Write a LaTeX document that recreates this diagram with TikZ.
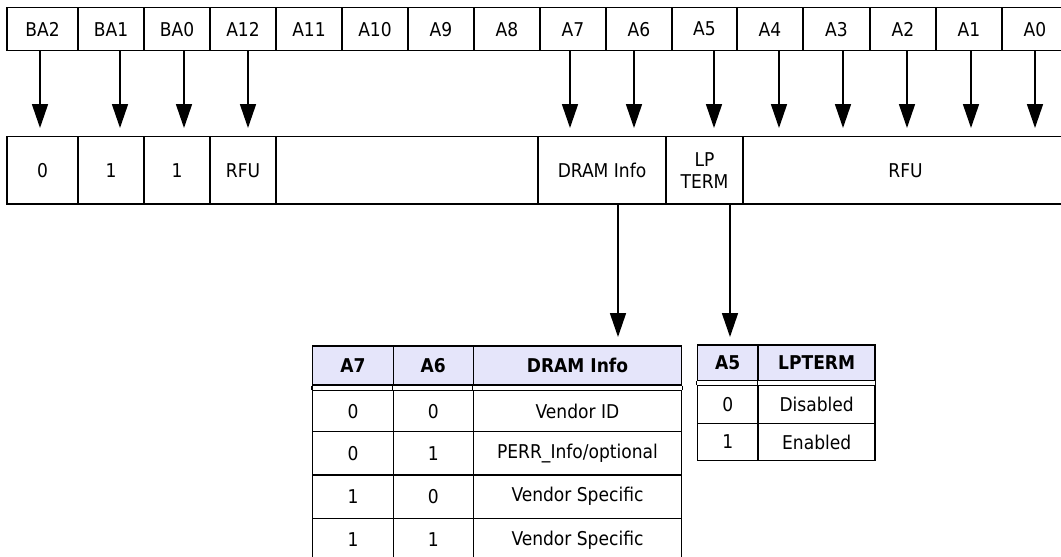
\documentclass[tikz,border=0pt]{standalone}
\usepackage{fontspec}
\setmainfont{DejaVu Sans Condensed}
\usetikzlibrary{arrows.meta}
\definecolor{hdr}{RGB}{229,229,250}
\begin{document}
\begin{tikzpicture}[x=1pt,y=-1pt,
  box/.style={draw=black,line width=1.3pt,inner sep=0pt,align=center,text=black,font=\fontsize{19}{22}\selectfont},
  hd/.style={box,fill=hdr,font=\bfseries\fontsize{19}{22}\selectfont},
  grid/.style={line width=1.3pt},
  arr/.style={line width=1.7pt,-{Triangle[length=24pt,width=16pt]}}]
\fill[white] (0,0) rectangle (1061,557);
\useasboundingbox (0,0) rectangle (1061,557);
\clip (0,0) rectangle (1061,557);
% top row
\foreach \l/\a/\b [count=\i] in {BA2/7/78,BA1/78/144,BA0/144/210,A12/210/276,A11/276/342,A10/342/408,A9/408/474,A8/474/540,A7/540/606,A6/606/672,A5/672/737,A4/737/803,A3/803/870,A2/870/936,A1/936/1002,A0/1002/1068}
  \node[box,minimum width={(\b-\a)*1pt},minimum height=43.2pt] (t\i) at ({(\a+\b)/2},29.1) {\l};
% second row
\foreach \l/\a/\b [count=\i] in {0/7/78,1/78/144,1/144/210,RFU/210/276,/276/538,DRAM Info/538/666,LP\\TERM/666/743,RFU/743/1068}
  \node[box,minimum width={(\b-\a)*1pt},minimum height=67.3pt] (b\i) at ({(\a+\b)/2},170.35) {\l};
% arrows top -> second row
\foreach \x [count=\i] in {40,120,184,248,570,634,714,779,843,907,971,1035} {
  \coordinate (as\i) at (\x,50.7);
  \coordinate (ae\i) at (\x,128);
  \draw[arr] (as\i) -- (ae\i);
}
% down arrows
\coordinate (ds1) at (618,204);
\coordinate (de1) at (618,337);
\coordinate (ds2) at (730,204);
\coordinate (de2) at (730,337);
\draw[arr] (ds1) -- (de1);
\draw[arr] (ds2) -- (de2);
% table 1
\node[hd,minimum width=80.6pt,minimum height=39pt] (h1a) at (353,365.5) {A7};
\node[hd,minimum width=80pt,minimum height=39pt] (h1b) at (433.3,365.5) {A6};
\node[hd,minimum width=208.4pt,minimum height=39pt] (h1c) at (577.5,365.5) {DRAM Info};
\node[box,minimum width=80.6pt,minimum height=41pt] (c1a) at (353,411.2) {0};
\node[box,minimum width=80pt,minimum height=41pt] (c1b) at (433.3,411.2) {0};
\node[box,minimum width=208.4pt,minimum height=41pt] (c1c) at (577.5,411.2) {Vendor ID};
\node[box,minimum width=80.6pt,minimum height=43.3pt] (c2a) at (353,453.35) {0};
\node[box,minimum width=80pt,minimum height=43.3pt] (c2b) at (433.3,453.35) {1};
\node[box,minimum width=208.4pt,minimum height=43.3pt] (c2c) at (577.5,453.35) {PERR\_Info/optional};
\node[box,minimum width=80.6pt,minimum height=43.3pt] (c3a) at (353,496.65) {1};
\node[box,minimum width=80pt,minimum height=43.3pt] (c3b) at (433.3,496.65) {0};
\node[box,minimum width=208.4pt,minimum height=43.3pt] (c3c) at (577.5,496.65) {Vendor Specific};
\node[box,minimum width=80.6pt,minimum height=43.3pt] (c4a) at (353,539.95) {1};
\node[box,minimum width=80pt,minimum height=43.3pt] (c4b) at (433.3,539.95) {1};
\node[box,minimum width=208.4pt,minimum height=43.3pt] (c4c) at (577.5,539.95) {Vendor Specific};
\draw[grid] (h1a.south west) -- (c1a.north west);
\draw[grid] (h1b.south west) -- (c1b.north west);
\draw[grid] (h1c.south west) -- (c1c.north west);
\draw[grid] (h1c.south east) -- (c1c.north east);
% table 2
\node[hd,minimum width=60.8pt,minimum height=35.7pt] (h2a) at (727.7,362.85) {A5};
\node[hd,minimum width=116.8pt,minimum height=35.7pt] (h2b) at (816.7,362.85) {LPTERM};
\node[box,minimum width=60.8pt,minimum height=37.6pt] (d1a) at (727.7,404.5) {0};
\node[box,minimum width=116.8pt,minimum height=37.6pt] (d1b) at (816.7,404.5) {Disabled};
\node[box,minimum width=60.8pt,minimum height=37.4pt] (d2a) at (727.7,442) {1};
\node[box,minimum width=116.8pt,minimum height=37.4pt] (d2b) at (816.7,442) {Enabled};
\draw[grid] (h2a.south west) -- (d1a.north west);
\draw[grid] (h2b.south west) -- (d1b.north west);
\draw[grid] (h2b.south east) -- (d1b.north east);
\end{tikzpicture}
\end{document}
